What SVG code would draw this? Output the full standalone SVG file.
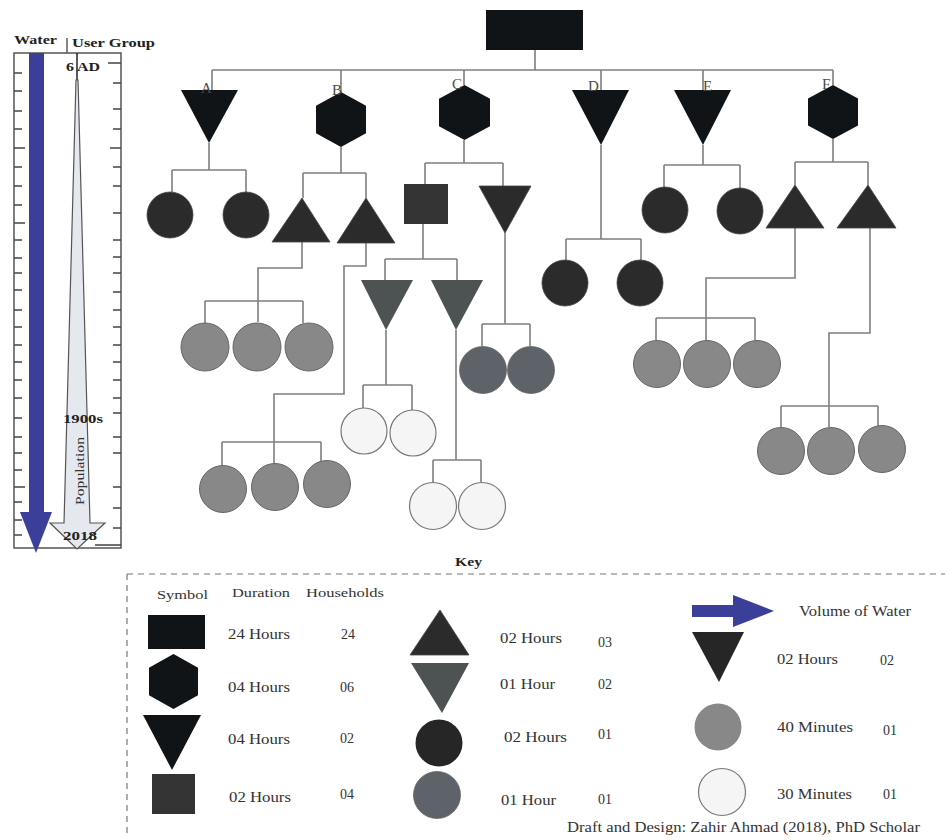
<svg xmlns="http://www.w3.org/2000/svg" width="949" height="840" viewBox="0 0 949 840">
<style>
text{font-family:"Liberation Serif","DejaVu Serif","Times New Roman",serif;fill:#333}
.b{font-weight:bold;fill:#222}
.lbl{font-size:15px;fill:#4a4a4a}
.k{font-size:14px}
.kh{font-size:13px}
.con{fill:none;stroke:#7f7f7f;stroke-width:1.6}
.blk{fill:#111416}
.dk{fill:#2b2b2b;stroke:#444;stroke-width:0.8}
.sq{fill:#333}
.gt{fill:#4d5252}
.g{fill:#888;stroke:#666;stroke-width:1}
.bg{fill:#5d6368;stroke:#666;stroke-width:0.8}
.w{fill:#f5f5f5;stroke:#777;stroke-width:1.2}
.tick{stroke:#444;stroke-width:1.4}
</style>

<g id="left-panel">
  <text class="b" x="14" y="44" font-size="12" textLength="43" lengthAdjust="spacingAndGlyphs">Water</text>
  <line x1="67" y1="38" x2="67" y2="53" stroke="#444" stroke-width="1.3"/>
  <text class="b" x="72" y="47" font-size="12" textLength="83" lengthAdjust="spacingAndGlyphs">User Group</text>
  <rect x="14" y="53" width="107" height="495" fill="none" stroke="#555" stroke-width="1.5"/>
  <g class="tick">
    <path d="M14,73h8M14,91h8M14,111h8M14,129h8M14,148h11M14,167h8M14,186h8M14,205h8M14,223h11M14,240h8M14,258h8M14,273h8M14,290h8M14,310h8M14,327h8M14,345h8M14,362h8M14,380h8M14,398h8M14,418h8M14,437h8M14,453h8M14,470h8M14,487h11M14,502h8M14,520h8M14,535h8"/>
    <path d="M108,63h13M113,83h8M113,109h8M113,129h8M110,148h11M113,167h8M113,186h8M113,213h8M113,240h8M113,257h8M113,273h8M113,292h8M113,310h8M113,327h8M113,345h8M113,362h8M113,380h8M113,398h8M113,413h8M113,437h8M113,453h8M113,487h8M113,508h8M113,528h8M95,545h26"/>
  </g>
  <rect x="29" y="53" width="15" height="460" fill="#3b3f99"/>
  <polygon points="20,512 52,512 36,553" fill="#3b3f99"/>
  <line x1="77" y1="53" x2="77" y2="120" stroke="#222" stroke-width="1.5"/>
  <polygon points="76,80 78,80 90,523 105,523 77,549 50,523 64,523" fill="#e6e8ef" stroke="#555" stroke-width="1.2"/>
  <text class="b" x="66" y="71" font-size="13" textLength="34" lengthAdjust="spacingAndGlyphs">6 AD</text>
  <text class="b" x="63" y="423" font-size="12" textLength="40" lengthAdjust="spacingAndGlyphs">1900s</text>
  <text x="0" y="0" font-size="12" textLength="68" lengthAdjust="spacingAndGlyphs" transform="translate(84,505) rotate(-90)">Population</text>
  <text class="b" x="63" y="540" font-size="12" textLength="34" lengthAdjust="spacingAndGlyphs">2018</text>
</g>

<g id="connectors">
  <path class="con" d="M535,50V70M212,70H833M212,70V90M341,70V92M464,70V85M601,70V90M703,70V90M833,70V85"/>
  <path class="con" d="M209,143V170M172,170H246M172,170V192M246,170V192"/>
  <path class="con" d="M341,147V173M303,173H366M303,173V198M366,173V198"/>
  <path class="con" d="M464,140V163M425,163H503M425,163V184M503,163V186"/>
  <path class="con" d="M601,145V239M566,239H641M566,239V260M641,239V260"/>
  <path class="con" d="M703,145V165M664,165H740M664,165V188M740,165V188"/>
  <path class="con" d="M833,139V162M795,162H868M795,162V185M868,162V185"/>
  <path class="con" d="M302,242V268H258V301M205,301H303M205,301V323M258,301V322M303,301V323"/>
  <path class="con" d="M366,243V266H344V394H274V442M222,442H321M222,442V466M274,442V464M321,442V462"/>
  <path class="con" d="M423,224V259M385,259H457M385,259V280M457,259V280"/>
  <path class="con" d="M505,233V324M482,324H530M482,324V346M530,324V346"/>
  <path class="con" d="M386,330V385M363,385H412M363,385V408M412,385V410"/>
  <path class="con" d="M456,330V460M433,460H481M433,460V482M481,460V482"/>
  <path class="con" d="M795,228V278H706V318M656,318H755M656,318V340M706,318V340M755,318V340"/>
  <path class="con" d="M870,228V333H829V406M781,406H878M781,406V427M829,406V427M878,406V426"/>
</g>

<g id="root"><rect class="blk" x="486" y="10" width="97" height="40"/></g>

<g id="node-A"><polygon class="blk" points="181,90 238,90 209,143"/><text class="lbl" x="201" y="93">A</text></g>
<g id="node-B"><polygon class="blk" points="341,92 366,105.75 366,133.25 341,147 316,133.25 316,105.75"/><text class="lbl" x="332" y="95">B</text></g>
<g id="node-C"><polygon class="blk" points="464.5,85 490,98.75 490,126.25 464.5,140 439,126.25 439,98.75"/><text class="lbl" x="452" y="89">C</text></g>
<g id="node-D"><polygon class="blk" points="572,90 629,90 601,145"/><text class="lbl" x="588" y="91">D</text></g>
<g id="node-E"><polygon class="blk" points="674,90 731,90 703,145"/><text class="lbl" x="703" y="91">E</text></g>
<g id="node-F"><polygon class="blk" points="833,85 858,98.5 858,125.5 833,139 808,125.5 808,98.5"/><text class="lbl" x="822" y="89">F</text></g>

<g id="A-children"><circle class="dk" cx="170" cy="215" r="23"/><circle class="dk" cx="246" cy="215" r="23"/></g>
<g id="B-children"><polygon class="dk" points="272,242 330,242 302,198"/><polygon class="dk" points="337,243 395,243 366,198"/></g>
<g id="C-children"><rect class="sq" x="404" y="184" width="44" height="40"/><polygon class="dk" points="479,186 531,186 505,233"/></g>
<g id="D-children"><circle class="dk" cx="565" cy="283" r="23"/><circle class="dk" cx="640" cy="283" r="23"/></g>
<g id="E-children"><circle class="dk" cx="665" cy="210" r="23"/><circle class="dk" cx="740" cy="211" r="23"/></g>
<g id="F-children"><polygon class="dk" points="766,228 824,228 795,185"/><polygon class="dk" points="837,228 896,228 868,185"/></g>

<g id="B1-children"><circle class="g" cx="205" cy="347" r="24"/><circle class="g" cx="257" cy="347" r="24"/><circle class="g" cx="309" cy="347" r="24"/></g>
<g id="B2-children"><circle class="g" cx="223" cy="489" r="23.5"/><circle class="g" cx="275" cy="487" r="23.5"/><circle class="g" cx="327" cy="484" r="23.5"/></g>
<g id="C-square-children"><polygon class="gt" points="361,280 413,280 386,330"/><polygon class="gt" points="431,280 483,280 456,330"/></g>
<g id="C-tri-children"><circle class="bg" cx="483" cy="370" r="23.5"/><circle class="bg" cx="531" cy="370" r="23.5"/></g>
<g id="gray-tri1-children"><circle class="w" cx="364" cy="431" r="23"/><circle class="w" cx="413" cy="433" r="23"/></g>
<g id="gray-tri2-children"><circle class="w" cx="433" cy="506" r="23.5"/><circle class="w" cx="482" cy="506" r="23.5"/></g>
<g id="F1-children"><circle class="g" cx="657" cy="364" r="23.5"/><circle class="g" cx="707" cy="364" r="23.5"/><circle class="g" cx="757" cy="364" r="23.5"/></g>
<g id="F2-children"><circle class="g" cx="781" cy="451" r="23.5"/><circle class="g" cx="831" cy="451" r="23.5"/><circle class="g" cx="882" cy="449" r="23.5"/></g>

<g id="key">
  <text class="b" x="455" y="566" font-size="12" textLength="27" lengthAdjust="spacingAndGlyphs">Key</text>
  <path d="M127,574H945M127,574V835" fill="none" stroke="#777" stroke-width="1.2" stroke-dasharray="6,5"/>
  <text class="kh" x="157" y="599" textLength="51" lengthAdjust="spacingAndGlyphs">Symbol</text>
  <text class="kh" x="232" y="597" textLength="58" lengthAdjust="spacingAndGlyphs">Duration</text>
  <text class="kh" x="306" y="597" textLength="78" lengthAdjust="spacingAndGlyphs">Households</text>

  <rect class="blk" x="148" y="615" width="57" height="34"/>
  <text class="k" x="228" y="639" textLength="62" lengthAdjust="spacingAndGlyphs">24 Hours</text>
  <text class="k" x="341" y="639">24</text>
  <polygon class="blk" points="173.5,654 198,667.75 198,695.25 173.5,709 149,695.25 149,667.75"/>
  <text class="k" x="228" y="692" textLength="62" lengthAdjust="spacingAndGlyphs">04 Hours</text>
  <text class="k" x="340" y="692">06</text>
  <polygon class="blk" points="143,715 201,715 172,770"/>
  <text class="k" x="228" y="744" textLength="62" lengthAdjust="spacingAndGlyphs">04 Hours</text>
  <text class="k" x="340" y="743">02</text>
  <rect class="sq" x="152" y="774" width="43" height="40"/>
  <text class="k" x="229" y="802" textLength="62" lengthAdjust="spacingAndGlyphs">02 Hours</text>
  <text class="k" x="340" y="799">04</text>

  <polygon class="dk" points="410,655 469,655 440,610"/>
  <text class="k" x="500" y="643" textLength="62" lengthAdjust="spacingAndGlyphs">02 Hours</text>
  <text class="k" x="598" y="647">03</text>
  <polygon class="gt" points="411,663 469,663 442,713"/>
  <text class="k" x="500" y="689" textLength="55" lengthAdjust="spacingAndGlyphs">01 Hour</text>
  <text class="k" x="598" y="689">02</text>
  <circle cx="439" cy="743" r="23.5" fill="#262626"/>
  <text class="k" x="504" y="742" textLength="63" lengthAdjust="spacingAndGlyphs">02 Hours</text>
  <text class="k" x="598" y="739">01</text>
  <circle class="bg" cx="437" cy="795" r="23.5"/>
  <text class="k" x="501" y="805" textLength="55" lengthAdjust="spacingAndGlyphs">01 Hour</text>
  <text class="k" x="598" y="804">01</text>

  <polygon points="692,605 733,605 733,595 774,611 733,627 733,617 692,617" fill="#3b3f99"/>
  <text class="k" x="799" y="616" textLength="112" lengthAdjust="spacingAndGlyphs">Volume of Water</text>
  <polygon points="692,632 744,632 719,682" fill="#262626"/>
  <text class="k" x="777" y="664" textLength="61" lengthAdjust="spacingAndGlyphs">02 Hours</text>
  <text class="k" x="880" y="665">02</text>
  <circle cx="718" cy="727" r="23.5" fill="#888"/>
  <text class="k" x="777" y="732" textLength="76" lengthAdjust="spacingAndGlyphs">40 Minutes</text>
  <text class="k" x="883" y="735">01</text>
  <circle class="w" cx="722" cy="792" r="23.5"/>
  <text class="k" x="777" y="799" textLength="75" lengthAdjust="spacingAndGlyphs">30 Minutes</text>
  <text class="k" x="883" y="799">01</text>

  <text class="k" x="567" y="832" textLength="353" lengthAdjust="spacingAndGlyphs">Draft and Design: Zahir Ahmad (2018), PhD Scholar</text>
</g>
</svg>
